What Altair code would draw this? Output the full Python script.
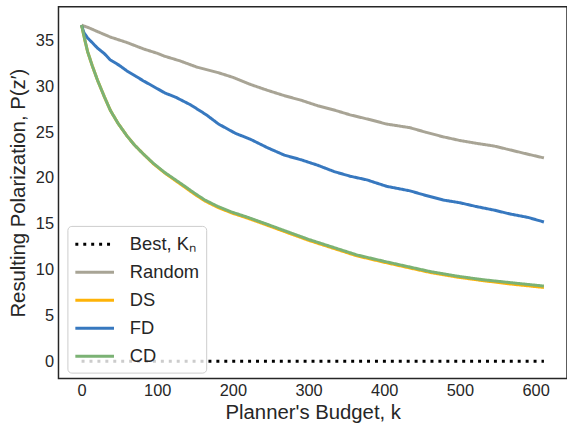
import altair as alt
import pandas as pd

# ---- data ----
series_names = ["Best, Kₙ", "Random", "DS", "FD", "CD"]
series_colors = ["#000000", "#a8a495", "#feb308", "#3778bf", "#7bb274"]
series_dashes = [[3, 5], [1, 0], [1, 0], [1, 0], [1, 0]]

best_k = [0, 611]
best_v = [0.0, 0.0]

random_k = [0, 10, 21, 38, 60, 82, 101, 110, 130, 153, 181, 200, 224, 245, 268,
            290, 312, 335, 355, 380, 403, 434, 455, 478, 500, 521, 545, 565, 590, 611]
random_v = [36.7, 36.4, 36.0, 35.4, 34.8, 34.1, 33.6, 33.3, 32.8, 32.1, 31.5, 31.0, 30.2, 29.6, 29.0,
            28.5, 27.9, 27.4, 26.9, 26.4, 25.9, 25.5, 25.0, 24.5, 24.1, 23.8, 23.5, 23.1, 22.6, 22.2]

fd_k = [0, 3, 8, 14, 21, 30, 38, 50, 60, 72, 82, 95, 110, 125, 144, 165, 181, 203, 224, 246,
        268, 290, 312, 334, 355, 377, 403, 434, 455, 478, 500, 521, 545, 565, 590, 611]
fd_v = [36.7, 35.9, 35.3, 34.8, 34.2, 33.6, 32.9, 32.3, 31.7, 31.1, 30.6, 30.0, 29.3, 28.8, 28.0, 26.9, 25.9, 24.9, 24.2, 23.3,
        22.5, 22.0, 21.4, 20.7, 20.2, 19.8, 19.1, 18.6, 18.1, 17.6, 17.3, 16.9, 16.5, 16.1, 15.7, 15.2]

cd_k = [0, 4, 8, 14, 21, 30, 38, 48, 60, 70, 82, 95, 110, 133, 150, 163, 180, 198, 220, 242,
        270, 300, 330, 364, 400, 430, 460, 495, 530, 570, 611]
cd_v = [36.7, 35.2, 33.8, 32.3, 30.7, 28.9, 27.4, 26.0, 24.6, 23.6, 22.6, 21.6, 20.6, 19.3, 18.3, 17.6, 16.9, 16.3, 15.7, 15.05,
        14.2, 13.3, 12.5, 11.6, 10.9, 10.35, 9.8, 9.3, 8.9, 8.55, 8.2]

ds_k = cd_k
ds_v = [36.7, 35.2, 33.8, 32.3, 30.7, 28.9, 27.4, 26.0, 24.6, 23.6, 22.6, 21.55, 20.55, 19.2, 18.2, 17.5, 16.8, 16.2, 15.6, 14.95,
        14.1, 13.2, 12.4, 11.5, 10.8, 10.25, 9.7, 9.2, 8.8, 8.4, 8.05]

x_ticks = [0, 100, 200, 300, 400, 500, 600]
y_ticks = [0, 5, 10, 15, 20, 25, 30, 35]

rows = []
for name, ks, vs in [
    (series_names[0], best_k, best_v),
    (series_names[1], random_k, random_v),
    (series_names[2], ds_k, ds_v),
    (series_names[3], fd_k, fd_v),
    (series_names[4], cd_k, cd_v),
]:
    for k, v in zip(ks, vs):
        rows.append({"series": name, "k": k, "v": v})
df = pd.DataFrame(rows)

TEXT = "#262626"
FONT = "Liberation Sans"

legend = alt.Legend(
    title=None,
    orient="none",
    legendX=9,
    legendY=221,
    fillColor="rgba(255,255,255,0.8)",
    strokeColor="#cccccc",
    cornerRadius=4,
    padding=7,
    symbolType="M-2,0H2",
    symbolSize=380,
    symbolStrokeWidth=3,
    symbolOffset=9,
    labelOffset=24,
    labelFontSize=18.5,
    labelFont=FONT,
    labelColor=TEXT,
    rowPadding=7.25,
)

chart = alt.Chart(df).mark_line(strokeWidth=3).encode(
    x=alt.X("k:Q",
            scale=alt.Scale(domain=[-30.5, 641.5], nice=False, zero=False),
            axis=alt.Axis(values=x_ticks, title="Planner's Budget, k", grid=False,
                          ticks=False, domain=False, labelFontSize=16.5,
                          labelPadding=4, titleFontSize=20.5, titlePadding=4,
                          labelColor=TEXT, titleColor=TEXT, labelFont=FONT,
                          titleFont=FONT, titleFontWeight="normal")),
    y=alt.Y("v:Q",
            scale=alt.Scale(domain=[-1.9, 38.7], nice=False, zero=False),
            axis=alt.Axis(values=y_ticks, title="Resulting Polarization, P(z′)", grid=False,
                          ticks=False, domain=False, labelFontSize=16.5,
                          labelPadding=5, titleFontSize=20.5, titlePadding=7,
                          labelColor=TEXT, titleColor=TEXT, labelFont=FONT,
                          titleFont=FONT, titleFontWeight="normal")),
    color=alt.Color("series:N", scale=alt.Scale(domain=series_names, range=series_colors), legend=legend),
    strokeDash=alt.StrokeDash("series:N", scale=alt.Scale(domain=series_names, range=series_dashes), legend=legend),
).properties(
    width=513,
    height=375,
    autosize=alt.AutoSizeParams(type="none"),
    padding={"left": 59, "top": 5, "right": 0, "bottom": 50},
).configure(
    font=FONT,
    background="white",
).configure_view(
    stroke=TEXT,
    strokeWidth=1.5,
)

chart.save("out.html", embed_options={"renderer": "svg", "actions": False})
